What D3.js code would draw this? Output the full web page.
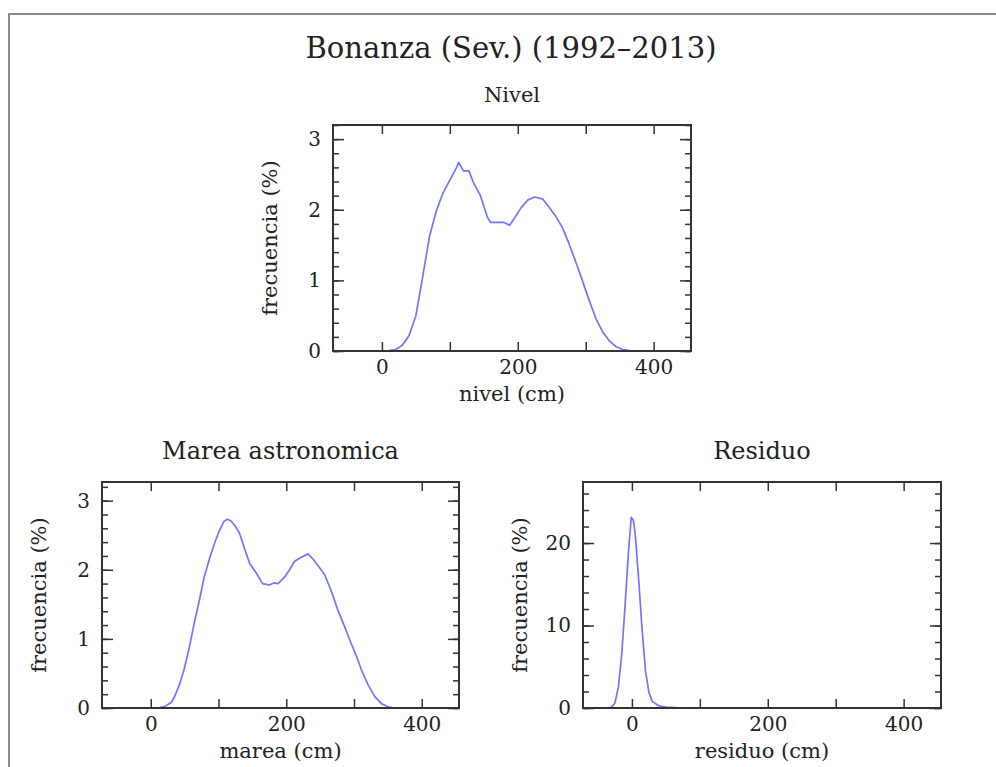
<!DOCTYPE html>
<html>
<head>
<meta charset="utf-8">
<script src="https://cdn.jsdelivr.net/npm/d3@7"></script>
<style>
  body { margin: 0; background: #fff; }
  text { font-family: "DejaVu Serif", serif; fill: #222; }
</style>
</head>
<body>
<svg id="chart" width="996" height="767"></svg>
<script>
// titles
const mainTitle = 'Bonanza (Sev.) (1992\u20132013)';

// nivel (cm) vs frecuencia (%)
const nivelX = [0, 10, 20, 30, 40, 50, 60, 70, 80, 90, 100, 110, 113, 120, 128, 135, 145, 155, 160, 170, 180, 188, 195, 205, 215, 225, 237, 245, 255, 265, 275, 285, 295, 305, 315, 325, 335, 345, 355, 365, 380];
const nivelY = [0, 0.005, 0.02, 0.08, 0.22, 0.5, 1.05, 1.62, 1.98, 2.24, 2.42, 2.6, 2.67, 2.55, 2.55, 2.38, 2.2, 1.9, 1.82, 1.82, 1.82, 1.78, 1.88, 2.03, 2.14, 2.18, 2.15, 2.05, 1.92, 1.76, 1.53, 1.27, 1.0, 0.72, 0.46, 0.27, 0.14, 0.06, 0.02, 0.005, 0];

// marea (cm) vs frecuencia (%)
const mareaX = [10, 20, 30, 35, 42, 49, 57, 64, 72, 79, 87, 94, 101, 108, 113, 118, 124, 131, 138, 146, 156, 165, 175, 182, 188, 198, 205, 212, 220, 226, 232, 240, 250, 257, 267, 276, 286, 296, 304, 311, 321, 331, 341, 351, 360];
const mareaY = [0, 0.02, 0.08, 0.16, 0.33, 0.55, 0.88, 1.22, 1.57, 1.9, 2.17, 2.38, 2.56, 2.7, 2.73, 2.71, 2.64, 2.53, 2.32, 2.09, 1.95, 1.8, 1.78, 1.81, 1.8, 1.9, 2.0, 2.12, 2.17, 2.2, 2.23, 2.15, 2.02, 1.92, 1.68, 1.42, 1.18, 0.93, 0.74, 0.55, 0.33, 0.16, 0.06, 0.015, 0];

// residuo (cm) vs frecuencia (%)
const residuoX = [-35, -30, -25, -20, -15, -10, -5, -1, 2, 5, 10, 15, 20, 25, 30, 40, 50, 70, 90];
const residuoY = [0, 0.1, 0.6, 2.5, 6.5, 12.5, 19, 23.1, 22.8, 21, 15.5, 9.5, 4.5, 1.9, 0.8, 0.25, 0.1, 0.03, 0];

// ticks
const xTicks = [0, 100, 200, 300, 400];
const xLabels = [0, 200, 400];
const pctMajor = [0, 1, 2, 3];
const pctMinor = d3.range(0, 3.21, 0.2);
const resMajor = [0, 10, 20];
const resMinor = d3.range(0, 27.1, 2);

const svg = d3.select('#chart');

// outer grey frame
svg.append('path')
    .attr('d', 'M9,767V14H996')
    .attr('fill', 'none')
    .attr('stroke', '#8a8a8a')
    .attr('stroke-width', 2);

svg.append('text')
    .attr('x', 511).attr('y', 58)
    .attr('text-anchor', 'middle')
    .attr('font-size', 29)
    .text(mainTitle);

const drawPanel = (p) => {
    const x = d3.scaleLinear().domain([-72, 455]).range([p.left, p.right]);
    const y = d3.scaleLinear().domain([0, p.yMax]).range([p.bottom, p.top]);
    const g = svg.append('g');

    // curve
    g.append('path')
        .datum(d3.zip(p.xs, p.ys))
        .attr('fill', 'none')
        .attr('stroke', '#7474ff')
        .attr('stroke-width', 1.7)
        .attr('stroke-linejoin', 'round')
        .attr('d', d3.line().x(d => x(d[0])).y(d => y(d[1])));

    // axes, ticks drawn inside the frame
    const noLabel = () => '';
    g.append('g').attr('transform', `translate(0,${p.bottom})`)
        .call(d3.axisBottom(x).tickValues(xTicks).tickSize(-9).tickPadding(9)
            .tickFormat(d => xLabels.includes(d) ? d : ''));
    g.append('g').attr('transform', `translate(0,${p.top})`)
        .call(d3.axisTop(x).tickValues(xTicks).tickSize(-9).tickFormat(noLabel));
    g.append('g').attr('transform', `translate(${p.left},0)`)
        .call(d3.axisLeft(y).tickValues(p.minor).tickSize(-6).tickFormat(noLabel));
    g.append('g').attr('transform', `translate(${p.left},0)`)
        .call(d3.axisLeft(y).tickValues(p.major).tickSize(-11).tickPadding(12).tickFormat(d3.format('d')));
    g.append('g').attr('transform', `translate(${p.right},0)`)
        .call(d3.axisRight(y).tickValues(p.minor).tickSize(-6).tickFormat(noLabel));
    g.append('g').attr('transform', `translate(${p.right},0)`)
        .call(d3.axisRight(y).tickValues(p.major).tickSize(-11).tickFormat(noLabel));

    g.selectAll('.domain').remove();
    g.selectAll('.tick line').attr('stroke', '#333').attr('stroke-width', 1.5);
    g.selectAll('.tick text')
        .attr('font-family', '"DejaVu Serif", serif')
        .attr('font-size', 20)
        .attr('fill', '#222');

    g.append('rect')
        .attr('x', p.left).attr('y', p.top)
        .attr('width', p.right - p.left).attr('height', p.bottom - p.top)
        .attr('fill', 'none')
        .attr('stroke', '#333')
        .attr('stroke-width', 2);

    const cx = (p.left + p.right) / 2;
    g.append('text')
        .attr('x', cx).attr('y', p.top - 23)
        .attr('text-anchor', 'middle')
        .attr('font-size', p.titleSize)
        .text(p.title);
    g.append('text')
        .attr('x', cx).attr('y', p.bottom + 50)
        .attr('text-anchor', 'middle')
        .attr('font-size', 21)
        .text(p.xLabel);
    g.append('text')
        .attr('transform', `translate(${p.left - 56},${(p.top + p.bottom) / 2}) rotate(-90)`)
        .attr('text-anchor', 'middle')
        .attr('font-size', 21)
        .text('frecuencia (%)');
};

drawPanel({ title: 'Nivel', titleSize: 21, xLabel: 'nivel (cm)', xs: nivelX, ys: nivelY,
    left: 333, right: 691, top: 125, bottom: 351, yMax: 3.2, major: pctMajor, minor: pctMinor });
drawPanel({ title: 'Marea astronomica', titleSize: 24, xLabel: 'marea (cm)', xs: mareaX, ys: mareaY,
    left: 102, right: 459, top: 482, bottom: 708, yMax: 3.27, major: pctMajor, minor: pctMinor });
drawPanel({ title: 'Residuo', titleSize: 24, xLabel: 'residuo (cm)', xs: residuoX, ys: residuoY,
    left: 583, right: 941, top: 482, bottom: 708, yMax: 27.4, major: resMajor, minor: resMinor });
</script>
</body>
</html>
